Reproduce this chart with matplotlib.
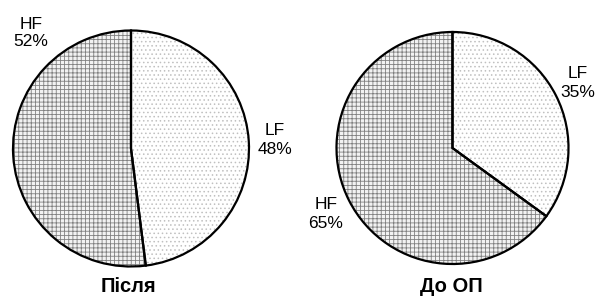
import matplotlib
matplotlib.use("Agg")
import matplotlib.pyplot as plt

plt.rcParams['font.family'] = ['Liberation Sans', 'DejaVu Sans']
plt.rcParams['hatch.linewidth'] = 0.6

categories = ["LF", "HF"]
after_values = [48, 52]
before_values = [35, 65]
titles = ["Після", "До ОП"]

W, H = 599, 298
fig = plt.figure(figsize=(W / 100, H / 100), dpi=100)
ax = fig.add_axes([0, 0, 1, 1])

hatches = ['....', '++++']
hatch_cols = ['#c0c0c0', '#808080']

def draw(values, center, radius):
    wedges, _ = ax.pie(values, center=center, radius=radius, startangle=90,
                       counterclock=False, colors=['white', '#f2f2f2'],
                       wedgeprops=dict(linewidth=0))
    for w, h, c in zip(wedges, hatches, hatch_cols):
        w.set_hatch(h)
        w.set_edgecolor(c)
    ax.pie(values, center=center, radius=radius, startangle=90,
           counterclock=False,
           wedgeprops=dict(fill=False, edgecolor='black', linewidth=1.6))

draw(after_values, (131, H - 148.5), 118)
draw(before_values, (452.5, H - 148), 116)

ax.set_xlim(0, W)
ax.set_ylim(0, H)
ax.set_aspect('equal')
ax.axis('off')

fs = 12.5
ax.text(31, H - 33, f"{categories[1]}\n{after_values[1]}%", ha='center', va='center',
        fontsize=fs, linespacing=1.15)
ax.text(275, H - 140, f"{categories[0]}\n{after_values[0]}%", ha='center', va='center',
        fontsize=fs, linespacing=1.35)
ax.text(578, H - 83, f"{categories[0]}\n{before_values[0]}%", ha='center', va='center',
        fontsize=fs, linespacing=1.4)
ax.text(326, H - 214, f"{categories[1]}\n{before_values[1]}%", ha='center', va='center',
        fontsize=fs, linespacing=1.4)

ax.text(128, H - 286, titles[0], ha='center', va='center', fontsize=14.5, fontweight='bold')
ax.text(451, H - 286, titles[1], ha='center', va='center', fontsize=14.5, fontweight='bold')

fig.savefig("out.png", dpi=100)
